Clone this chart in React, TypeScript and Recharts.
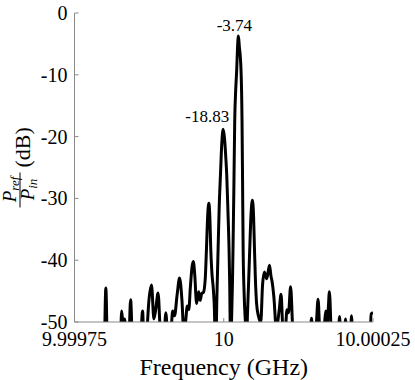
import { LineChart, Line, XAxis, YAxis, ReferenceDot } from "recharts";

// frequency offset from 10 GHz, in kHz
const freqOffsetKHz = [
  -250, -206, -200.5, -197.5, -194.5, -188, -176, -173, -171, -168.5,
  -166, -163, -159, -156, -153, -148, -141, -138, -136, -133,
  -129, -125.5, -121, -117, -114, -110, -106, -101, -97, -93,
  -88, -85.5, -82.5, -78, -74, -70, -67, -64, -61, -58.5,
  -56, -53, -51, -48.5, -45.5, -42, -39.5, -37, -34, -31,
  -29, -27, -25, -23.5, -21.7, -19.5, -18, -16, -13.5, -11.5,
  -9.5, -7.5, -5.5, -3.5, -1, 1.5, 3.5, 5, 7, 8.9,
  10, 11.5, 13, 14.5, 15.5, 17, 18.4, 20, 21.7, 23,
  24.5, 26, 28.9, 30.6, 31.5, 32.5, 34, 36, 38.5, 40,
  41.5, 43.5, 45.5, 48, 50, 51.5, 53, 55, 58, 62,
  65, 68, 72, 76.6, 79, 81, 84, 88, 93, 96,
  99, 102.5, 106, 108.5, 112, 115, 118, 125, 140, 145,
  147, 150, 155, 158, 161, 165, 169, 171, 173, 175,
  177, 180, 186, 191.5, 194, 197, 201.5, 204, 207, 211.5,
  214, 217, 225, 240, 244.5, 247, 250,
];

// P_ref / P_in in dB
const reflectedDb = [
  -60, -60, -56, -44.5, -56, -60, -60, -54, -48.2, -50.5,
  -49.5, -54, -53, -46.4, -54, -60, -57, -51, -48.2, -56,
  -52, -46.7, -44, -49.5, -48, -45.3, -52, -54, -48.5, -54,
  -51, -48.2, -49, -45.5, -42.9, -46.5, -51.5, -50, -47.4, -48,
  -44.5, -41, -40.2, -42.5, -47, -45.1, -46.5, -45.4, -45.2, -43,
  -38.3, -33, -30.8, -32.5, -38.3, -42.5, -44, -47, -55, -46,
  -38.3, -31, -26.2, -21.5, -18.83, -20.5, -23.5, -26.2, -32, -38.3,
  -44, -55, -50, -44, -38.3, -28, -17.3, -12.5, -9.2, -5.8,
  -3.74, -5.3, -9.2, -17.3, -27, -38.3, -45, -49.5, -52, -48,
  -44, -38.3, -33, -30.3, -33, -38.3, -43, -47, -49, -50,
  -44, -41.9, -43, -40.8, -42.5, -43.5, -46, -51, -48, -45.5,
  -51, -52, -48, -48.5, -44.3, -50, -56, -60, -60, -52.5,
  -49.4, -53.5, -50.5, -46.3, -52, -54, -50, -48.2, -50.5, -48,
  -45.1, -52, -58, -54, -49.1, -55, -54, -49.5, -55, -54,
  -49, -56, -60, -60, -54, -48.7, -48.5,
];

const xTicks = [-250, 0, 250];
const xTickLabels = ["9.99975", "10", "10.00025"];
const yTicks = [-50, -40, -30, -20, -10, 0];

const peakFreqs = [24.5, -1];
const peakValues = [-3.74, -18.83];
const peakLabels = ["-3.74", "-18.83"];

const data = freqOffsetKHz.map((f, i) => ({ f, db: reflectedDb[i] }));

const SERIF = "Liberation Serif, Times New Roman, serif";
const AXIS = "#8a8a8a";

// label placement relative to the marked peak
const peakLabelStyle = [
  { dx: -4, dy: -5.5, anchor: "middle" },
  { dx: 6, dy: -7.5, anchor: "end" },
];

function XTick(props: any) {
  const { x, y, payload } = props;
  const label = xTickLabels[xTicks.indexOf(payload.value)] ?? "";
  return (
    <text x={x} y={y + 13} textAnchor="middle" fontFamily={SERIF} fontSize={20} fill="#000">
      {label}
    </text>
  );
}

function YTick(props: any) {
  const { x, y, payload } = props;
  return (
    <text x={x} y={y + 7} textAnchor="end" fontFamily={SERIF} fontSize={20} fill="#000">
      {payload.value}
    </text>
  );
}

function YLabel(props: any) {
  const vb = props.viewBox || { x: 0, y: 13, width: 74.5, height: 309 };
  const cy = vb.y + vb.height / 2;
  return (
    <g transform={`translate(20, ${cy}) rotate(-90)`} fontFamily={SERIF} fill="#000">
      <text x={-22} y={-4} textAnchor="middle" fontSize={19} fontStyle="italic">
        P<tspan fontSize={13} dy={3}>ref</tspan>
      </text>
      <line x1={-40} x2={-5} y1={0} y2={0} stroke="#000" strokeWidth={1} />
      <text x={-22} y={14} textAnchor="middle" fontSize={19} fontStyle="italic">
        P<tspan fontSize={13} dy={3}>in</tspan>
      </text>
      <text x={0} y={10} fontSize={22}>(dB)</text>
    </g>
  );
}

function XLabel(props: any) {
  const vb = props.viewBox || { x: 74.5, y: 322, width: 298.5, height: 58 };
  return (
    <text x={vb.x + vb.width / 2} y={375} textAnchor="middle" fontFamily={SERIF} fontSize={24} fill="#000">
      Frequency (GHz)
    </text>
  );
}

export default function App() {
  return (
    <div style={{ position: "absolute", left: 0, top: 0, width: 415, height: 380, background: "#fff", fontFamily: SERIF }}>
      <LineChart width={415} height={380} data={data} margin={{ top: 13, right: 42, bottom: 0, left: 0 }}>
        <XAxis
          dataKey="f"
          type="number"
          domain={[-250, 250]}
          ticks={xTicks}
          allowDataOverflow
          height={58}
          tickSize={-4}
          tickMargin={15}
          stroke={AXIS}
          tick={<XTick />}
          label={{ content: XLabel }}
        />
        <XAxis
          xAxisId="top"
          orientation="top"
          dataKey="f"
          type="number"
          domain={[-250, 250]}
          ticks={xTicks}
          allowDataOverflow
          height={0}
          tickSize={-4}
          stroke={AXIS}
          tickFormatter={() => ""}
        />
        <YAxis
          domain={[-50, 0]}
          ticks={yTicks}
          allowDataOverflow
          width={74.5}
          tickSize={-4}
          tickMargin={11}
          stroke={AXIS}
          tick={<YTick />}
          label={{ content: YLabel }}
        />
        <YAxis
          yAxisId="right"
          orientation="right"
          domain={[-50, 0]}
          ticks={yTicks}
          allowDataOverflow
          width={0}
          tickSize={-4}
          stroke={AXIS}
          tickFormatter={() => ""}
        />
        <Line
          dataKey="db"
          type="monotone"
          stroke="#000"
          strokeWidth={3}
          dot={false}
          isAnimationActive={false}
        />
        {peakFreqs.map((f, i) => (
          <ReferenceDot
            key={peakLabels[i]}
            x={f}
            y={peakValues[i]}
            r={0}
            stroke="none"
            label={{
              content: (p: any) => {
                const vb = p.viewBox || { x: 0, y: 0, width: 0, height: 0 };
                const cx = vb.x + vb.width / 2;
                const cy = vb.y + vb.height / 2;
                const s = peakLabelStyle[i];
                return (
                  <text x={cx + s.dx} y={cy + s.dy} textAnchor={s.anchor as any} fontFamily={SERIF} fontSize={17} fill="#000">
                    {peakLabels[i]}
                  </text>
                );
              },
            }}
          />
        ))}
      </LineChart>
    </div>
  );
}
